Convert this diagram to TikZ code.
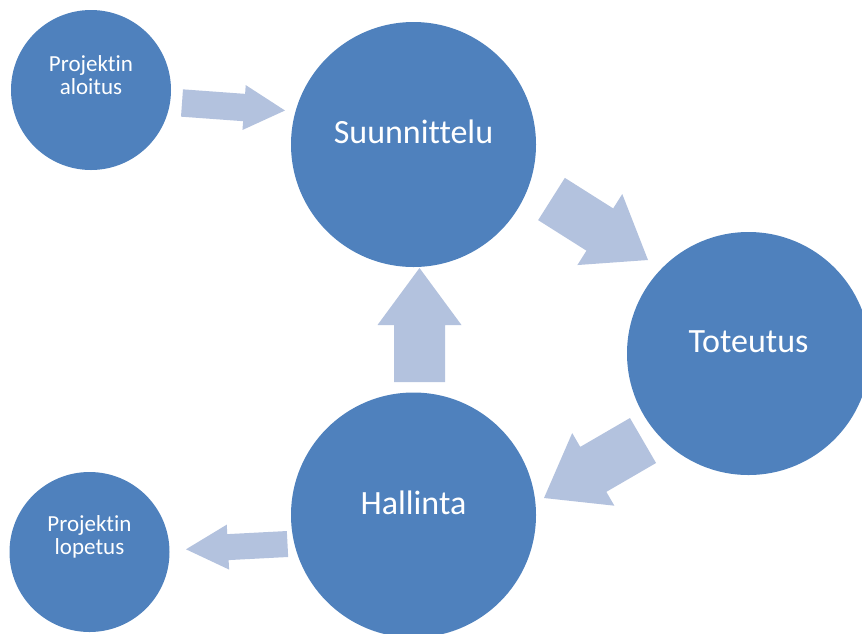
\documentclass[tikz,border=0pt]{standalone}
\usepackage{fontspec}
\setmainfont{Carlito}[Ligatures=NoCommon]
\usetikzlibrary{calc}

\definecolor{circblue}{RGB}{79,129,189}
\definecolor{arrowblue}{RGB}{179,194,222}

% block arrow: from, to, half shaft, half head, head length
\newcommand{\blockarrow}[5]{%
  \coordinate (hb) at ($(#2)!#5!(#1)$);
  \fill[arrowblue] ($(#1)!#3!90:(#2)$) -- ($(hb)!#3!-90:(#1)$) -- ($(hb)!#4!-90:(#1)$) -- (#2)
    -- ($(hb)!#4!90:(#1)$) -- ($(hb)!#3!90:(#1)$) -- ($(#1)!#3!-90:(#2)$) -- cycle;
}

\begin{document}
\begin{tikzpicture}[
    x=1pt,
    y=-1pt,
    bigc/.style={circle,fill=circblue,inner sep=0pt,minimum size=245pt},
    smallc/.style={circle,fill=circblue,inner sep=0pt,minimum size=160pt},
    bigtxt/.style={text=white,font=\fontsize{34}{40}\selectfont,inner sep=0pt,text height=0pt,text depth=0pt,yshift=1pt},
    smalltxt/.style={text=white,font=\fontsize{23}{22.7}\selectfont,align=center,yshift=15pt}
]
\clip (0,0) rectangle (862,633);

% arrow ends
\coordinate (ar1a) at (182,103);
\coordinate (ar1b) at (285,110.5);
\coordinate (ar2a) at (551.5,199);
\coordinate (ar2b) at (648,260);
\coordinate (ar3a) at (643,440.5);
\coordinate (ar3b) at (544,498);
\coordinate (ar4a) at (419.5,382);
\coordinate (ar4b) at (419.5,268);
\coordinate (ar5a) at (287.5,544);
\coordinate (ar5b) at (186,549.3);

\blockarrow{ar1a}{ar1b}{13.7pt}{22.5pt}{41pt}
\blockarrow{ar2a}{ar2b}{25pt}{42pt}{57pt}
\blockarrow{ar3a}{ar3b}{26pt}{42pt}{57pt}
\blockarrow{ar4a}{ar4b}{25.5pt}{42pt}{57pt}
\blockarrow{ar5a}{ar5b}{13pt}{22.5pt}{42pt}

\node[smallc,label={[smalltxt]center:Projektin\\aloitus}] (aloitus) at (91,90) {};
\node[smallc,label={[smalltxt]center:Projektin\\lopetus}] (lopetus) at (89.5,552) {};
\node[bigc,label={[bigtxt]center:Suunnittelu}] (suun) at (413.5,144.5) {};
\node[bigc,minimum size=243pt,label={[bigtxt]center:Toteutus}] (tot) at (748.5,353.5) {};
\node[bigc,label={[bigtxt]center:Hallinta}] (hal) at (413.5,515) {};
\end{tikzpicture}
\end{document}
